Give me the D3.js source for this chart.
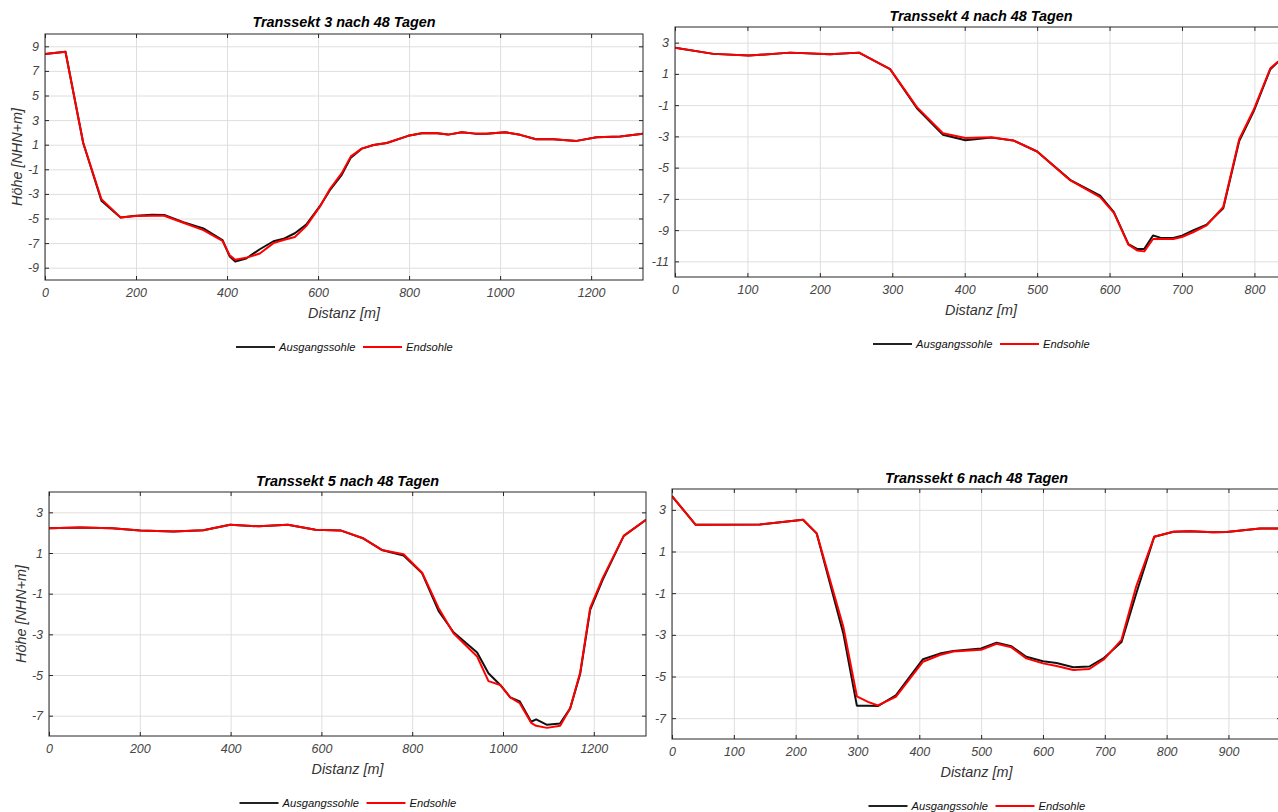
<!DOCTYPE html>
<html><head><meta charset="utf-8">
<script src="https://cdn.jsdelivr.net/npm/d3@7"></script>
<style>
body{margin:0;background:#fff;}
svg{display:block;font-family:"Liberation Sans",Arial,Helvetica,sans-serif;}
</style>
</head><body>
<svg id="c" width="1278" height="812"></svg>
<script>
// ---------- Transsekt 3 ----------
const t3Dist = [0, 45, 84, 124, 166, 200, 235, 262, 304, 348, 390, 406, 418, 442, 472, 502, 524, 549, 574, 604, 626, 652, 672, 696, 722, 751, 798, 828, 857, 886, 916, 945, 970, 1011, 1044, 1079, 1117, 1168, 1212, 1264, 1314];
const t3Aus  = [8.37, 8.56, 1.14, -3.55, -4.91, -4.78, -4.7, -4.72, -5.3, -5.8, -6.75, -8.1, -8.5, -8.25, -7.5, -6.85, -6.65, -6.2, -5.5, -4.0, -2.7, -1.45, -0.05, 0.68, 0.98, 1.14, 1.72, 1.93, 1.96, 1.82, 2.01, 1.9, 1.9, 2.01, 1.8, 1.44, 1.44, 1.31, 1.6, 1.67, 1.9];
const t3End  = [8.37, 8.56, 1.14, -3.44, -4.91, -4.8, -4.78, -4.78, -5.35, -5.95, -6.82, -8.0, -8.35, -8.2, -7.85, -7.0, -6.75, -6.5, -5.62, -4.04, -2.6, -1.31, 0.05, 0.68, 0.98, 1.14, 1.72, 1.93, 1.96, 1.82, 2.01, 1.9, 1.9, 2.01, 1.8, 1.44, 1.44, 1.31, 1.6, 1.67, 1.9];

// ---------- Transsekt 4 ----------
const t4Dist = [0, 53, 102, 159, 214, 254, 297, 334, 370, 401, 437, 467, 500, 546, 587, 606, 626, 638, 648, 660, 670, 688, 700, 716, 734, 757, 779, 799, 822, 833];
const t4Aus  = [2.68, 2.28, 2.17, 2.36, 2.25, 2.36, 1.3, -1.2, -2.9, -3.25, -3.08, -3.26, -3.97, -5.8, -6.8, -7.85, -9.9, -10.2, -10.2, -9.34, -9.48, -9.5, -9.35, -9.0, -8.65, -7.6, -3.3, -1.4, 1.3, 1.79];
const t4End  = [2.68, 2.28, 2.17, 2.36, 2.25, 2.36, 1.3, -1.13, -2.8, -3.11, -3.05, -3.26, -3.97, -5.82, -6.89, -7.9, -9.93, -10.3, -10.36, -9.57, -9.57, -9.57, -9.44, -9.12, -8.7, -7.52, -3.18, -1.3, 1.36, 1.79];

// ---------- Transsekt 5 ----------
const t5Dist = [0, 69, 139, 201, 274, 340, 399, 462, 526, 587, 642, 693, 733, 781, 822, 858, 891, 943, 968, 994, 1016, 1037, 1062, 1073, 1097, 1126, 1148, 1170, 1192, 1220, 1266, 1315];
const t5Aus  = [2.22, 2.26, 2.22, 2.11, 2.06, 2.12, 2.39, 2.31, 2.39, 2.14, 2.11, 1.71, 1.15, 0.88, 0.0, -1.85, -2.9, -3.89, -4.91, -5.49, -6.1, -6.3, -7.3, -7.18, -7.45, -7.38, -6.64, -4.95, -1.8, -0.3, 1.84, 2.63];
const t5End  = [2.22, 2.26, 2.22, 2.11, 2.06, 2.12, 2.39, 2.31, 2.39, 2.14, 2.11, 1.71, 1.15, 0.94, 0.03, -1.7, -2.95, -4.09, -5.3, -5.49, -6.1, -6.39, -7.35, -7.5, -7.6, -7.5, -6.64, -4.88, -1.7, -0.21, 1.84, 2.63];

// ---------- Transsekt 6 ----------
const t6Dist = [0, 38, 142, 212, 234, 277, 299, 317, 333, 362, 406, 433, 455, 500, 525, 549, 573, 600, 622, 649, 675, 699, 727, 751, 780, 811, 838, 875, 897, 951, 985];
const t6Aus  = [3.66, 2.29, 2.3, 2.52, 1.87, -2.92, -6.4, -6.4, -6.42, -5.9, -4.17, -3.9, -3.78, -3.65, -3.38, -3.55, -4.05, -4.27, -4.35, -4.56, -4.52, -4.1, -3.35, -1.0, 1.71, 1.95, 1.97, 1.92, 1.94, 2.1, 2.1];
const t6End  = [3.66, 2.29, 2.3, 2.52, 1.87, -2.6, -5.95, -6.22, -6.39, -5.98, -4.29, -3.97, -3.8, -3.72, -3.43, -3.6, -4.13, -4.37, -4.5, -4.69, -4.64, -4.17, -3.24, -0.66, 1.71, 1.95, 1.97, 1.92, 1.94, 2.1, 2.1];

// ---------- tick labels ----------
const t3XTicks = [0, 200, 400, 600, 800, 1000, 1200];
const t3YTicks = [-9, -7, -5, -3, -1, 1, 3, 5, 7, 9];
const t4XTicks = [0, 100, 200, 300, 400, 500, 600, 700, 800];
const t4YTicks = [-11, -9, -7, -5, -3, -1, 1, 3];
const t5XTicks = [0, 200, 400, 600, 800, 1000, 1200];
const t5YTicks = [-7, -5, -3, -1, 1, 3];
const t6XTicks = [0, 100, 200, 300, 400, 500, 600, 700, 800, 900];
const t6YTicks = [-7, -5, -3, -1, 1, 3];

const titles = ["Transsekt 3 nach 48 Tagen", "Transsekt 4 nach 48 Tagen", "Transsekt 5 nach 48 Tagen", "Transsekt 6 nach 48 Tagen"];
const seriesNames = ["Ausgangssohle", "Endsohle"];
const xLabel = "Distanz [m]";
const yLabel = "Höhe [NHN+m]";

const panels = [
  {title: titles[0], dist: t3Dist, aus: t3Aus, end: t3End, xd: [0, 1314], yd: [-10, 10], xt: t3XTicks, yt: t3YTicks,
   box: {l: 45, t: 34, r: 643, b: 280}, ylab: true, titleY: 27},
  {title: titles[1], dist: t4Dist, aus: t4Aus, end: t4End, xd: [0, 845], yd: [-12, 4], xt: t4XTicks, yt: t4YTicks,
   box: {l: 675, t: 27, r: 1287, b: 277}, ylab: false, titleY: 21},
  {title: titles[2], dist: t5Dist, aus: t5Aus, end: t5End, xd: [0, 1315], yd: [-8, 4], xt: t5XTicks, yt: t5YTicks,
   box: {l: 49, t: 492, r: 646, b: 736}, ylab: true, titleY: 486},
  {title: titles[3], dist: t6Dist, aus: t6Aus, end: t6End, xd: [0, 985], yd: [-8, 4], xt: t6XTicks, yt: t6YTicks,
   box: {l: 672, t: 489, r: 1281, b: 739}, ylab: false, titleY: 483}
];

const svg = d3.select("#c");
const tickCol = "#454545", gridCol = "#dedede", boxCol = "#262626";

panels.forEach((p, i) => {
  const {l, t, r, b} = p.box;
  const x = d3.scaleLinear().domain(p.xd).range([l, r]);
  const y = d3.scaleLinear().domain(p.yd).range([b, t]);
  const g = svg.append("g");
  const clipId = "clip" + i;
  svg.append("clipPath").attr("id", clipId).append("rect").attr("x", l).attr("y", t).attr("width", r - l).attr("height", b - t);

  // grid
  g.append("g").attr("transform", `translate(0,${b})`)
    .call(d3.axisBottom(x).tickValues(p.xt).tickSize(-(b - t)).tickFormat(""))
    .call(s => { s.select(".domain").remove(); s.selectAll("line").attr("stroke", gridCol).attr("stroke-width", 1); });
  g.append("g").attr("transform", `translate(${l},0)`)
    .call(d3.axisLeft(y).tickValues(p.yt).tickSize(-(r - l)).tickFormat(""))
    .call(s => { s.select(".domain").remove(); s.selectAll("line").attr("stroke", gridCol).attr("stroke-width", 1); });

  // lines
  const line = d3.line().x((d, k) => x(p.dist[k])).y(d => y(d));
  const lg = g.append("g").attr("clip-path", `url(#${clipId})`);
  lg.append("path").datum(p.aus).attr("d", line).attr("fill", "none").attr("stroke", "#111").attr("stroke-width", 2).attr("stroke-linejoin", "round");
  lg.append("path").datum(p.end).attr("d", line).attr("fill", "none").attr("stroke", "#ff0000").attr("stroke-width", 2).attr("stroke-linejoin", "round");

  // axes (ticks inward on all sides)
  const fmt = d => String(d);
  const styleAx = s => {
    s.select(".domain").remove();
    s.selectAll("line").attr("stroke", boxCol);
    s.selectAll("text").attr("fill", tickCol).attr("font-size", "12.5px").attr("font-style", "italic");
  };
  g.append("g").attr("transform", `translate(0,${b})`)
    .call(d3.axisBottom(x).tickValues(p.xt).tickSize(-4).tickPadding(8).tickFormat(fmt)).call(styleAx);
  g.append("g").attr("transform", `translate(0,${t})`)
    .call(d3.axisTop(x).tickValues(p.xt).tickSize(-4).tickFormat("")).call(styleAx);
  g.append("g").attr("transform", `translate(${l},0)`)
    .call(d3.axisLeft(y).tickValues(p.yt).tickSize(-4).tickPadding(6).tickFormat(fmt)).call(styleAx);
  g.append("g").attr("transform", `translate(${r},0)`)
    .call(d3.axisRight(y).tickValues(p.yt).tickSize(-4).tickFormat("")).call(styleAx);

  g.append("rect").attr("x", l).attr("y", t).attr("width", r - l).attr("height", b - t)
    .attr("fill", "none").attr("stroke", boxCol).attr("stroke-width", 1);

  const cx = (l + r) / 2;
  g.append("text").attr("x", cx).attr("y", p.titleY).attr("text-anchor", "middle")
    .attr("font-size", "14.4px").attr("font-weight", "bold").attr("font-style", "italic").attr("fill", "#000").text(p.title);
  g.append("text").attr("x", cx).attr("y", b + 38).attr("text-anchor", "middle")
    .attr("font-size", "14.4px").attr("font-style", "italic").attr("fill", "#333").text(xLabel);
  if (p.ylab) {
    g.append("text").attr("transform", `translate(${l - 23},${(t + b) / 2}) rotate(-90)`).attr("text-anchor", "middle")
      .attr("font-size", "14.4px").attr("font-style", "italic").attr("fill", "#333").text(yLabel);
  }

  // legend
  const ly = b + 67;
  const lx = cx - 108;
  const leg = g.append("g");
  leg.append("line").attr("x1", lx).attr("x2", lx + 39).attr("y1", ly).attr("y2", ly).attr("stroke", "#222").attr("stroke-width", 2);
  leg.append("text").attr("x", lx + 43).attr("y", ly + 4).attr("font-size", "11.2px").attr("font-style", "italic").attr("fill", "#111").text(seriesNames[0]);
  leg.append("line").attr("x1", lx + 127).attr("x2", lx + 166).attr("y1", ly).attr("y2", ly).attr("stroke", "#ff0000").attr("stroke-width", 2);
  leg.append("text").attr("x", lx + 170).attr("y", ly + 4).attr("font-size", "11.2px").attr("font-style", "italic").attr("fill", "#111").text(seriesNames[1]);
});
</script>
</body></html>
